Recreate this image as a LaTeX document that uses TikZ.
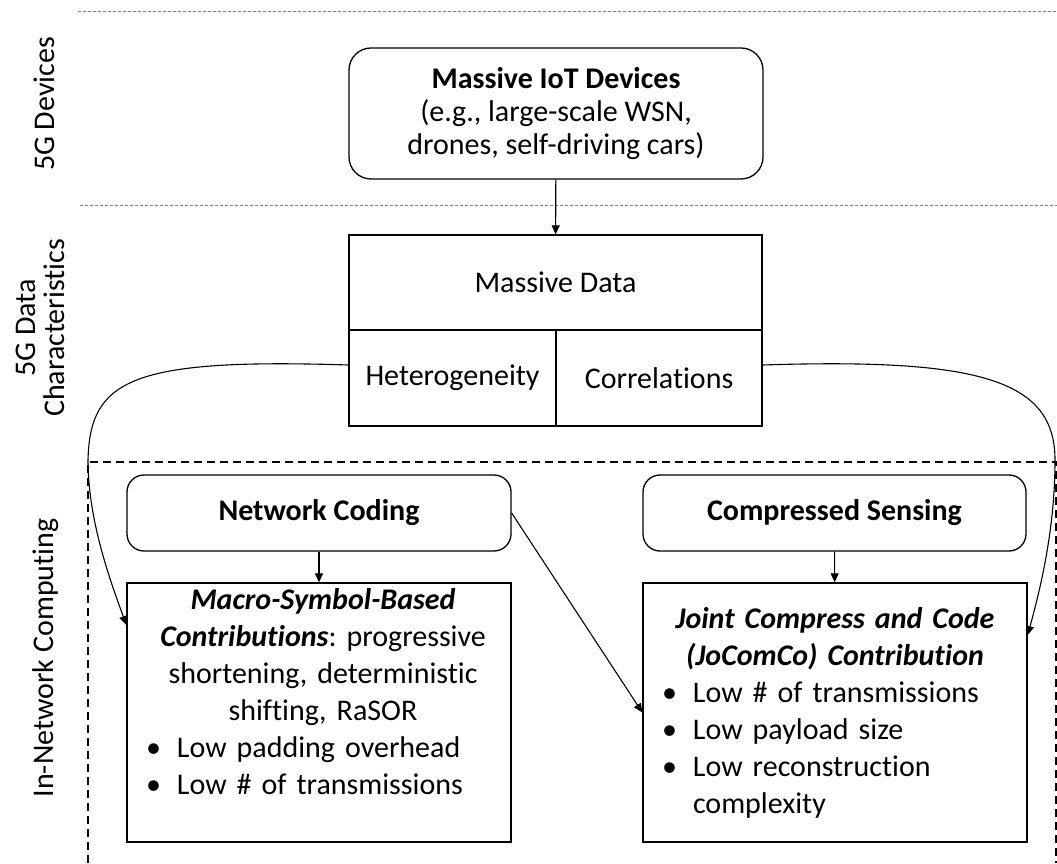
\documentclass[tikz,border=0pt]{standalone}
\usepackage{fontspec}
\setmainfont{Carlito}[Ligatures=NoCommon]
\usepackage{tikz}
\usetikzlibrary{arrows.meta}

% bullet line with hanging indent
\newcommand{\bulletline}[1]{\par\noindent\hangindent=40pt\hangafter=1\makebox[40pt][l]{\hspace{9pt}\textbullet}#1}

\begin{document}
\begin{tikzpicture}[x=1pt,y=1pt,
    every node/.style={font=\fontsize{30}{37}\selectfont\frenchspacing},
    roundbox/.style={draw, line width=1.3pt, rounded corners=#1, align=center, inner sep=0pt},
    plainbox/.style={draw, line width=1.3pt, inner sep=0pt},
    textbox/.style={draw, line width=1.3pt, text width=364pt, inner xsep=10pt, inner ysep=0pt,
                    minimum height=259pt},
    arrow/.style={-{Triangle[length=9pt,width=8pt]}, line width=1.1pt},
    layer/.style={rotate=90, align=center},
    sep/.style={gray, dash pattern=on 3pt off 2pt, line width=0.8pt},
    zone/.style={dash pattern=on 8pt off 5pt, line width=1.3pt}]
\useasboundingbox (0,0) rectangle (1057,863);

% Layer separators
\draw[sep] (78,852) -- (1057,852);
\draw[sep] (80,658) -- (1057,658);
\draw[zone] (88,0) -- (88,401) -- (1056,401) -- (1056,0);

% Layer labels
\node[layer] (devlbl) at (44,759) {5G Devices};
\node[layer, font=\fontsize{30}{29}\selectfont] (datalbl) at (40,535) {5G Data\\Characteristics};
\node[layer] (innlbl) at (46,205) {In-Network Computing};

% Devices and data
\node[roundbox=22pt, minimum width=414pt, minimum height=131pt,
      font=\fontsize{30}{33}\selectfont] (iot) at (556,749.5)
      {\textbf{Massive IoT Devices}\\(e.g., large-scale WSN,\\drones, self-driving cars)};
\node[plainbox, minimum width=413pt, minimum height=95pt] (mdata) at (555.5,580.5) {Massive Data};
\node[plainbox, minimum width=207pt, minimum height=96pt] (hetero) at (452.5,485) {Heterogeneity};
\node[plainbox, minimum width=206pt, minimum height=96pt] (corr) at (659,485) {Correlations};

% In-network computing
\node[roundbox=17pt, minimum width=384pt, minimum height=76pt] (nc) at (319,350) {\textbf{Network Coding}};
\node[roundbox=17pt, minimum width=383pt, minimum height=76pt] (cs) at (834.5,350) {\textbf{Compressed Sensing}};

\node[textbox] (macro) at (319,150.5) {%
  {\centering\hspace*{8pt}\textbf{\textit{Macro-Symbol-Based}}\\
  \hspace*{8pt}\textbf{\textit{Contributions}}: progressive\\
  \hspace*{8pt}shortening, deterministic\\
  \hspace*{8pt}shifting, RaSOR\par}
  \bulletline{Low padding overhead}
  \bulletline{Low \# of transmissions}\par\vspace{6pt}\hbox{}};
\node[textbox] (jocomco) at (835,150.5) {%
  {\centering\textbf{\textit{Joint Compress and Code}}\\
  \textbf{\textit{(JoComCo) Contribution}}\par}
  \bulletline{Low \# of transmissions}
  \bulletline{Low payload size}
  \bulletline{Low reconstruction\newline complexity}\par};

% Connectors
\draw[arrow] (iot) -- (mdata);
\draw[arrow] (nc) -- (macro);
\draw[arrow] (cs) -- (jocomco);
\draw[arrow] (nc.east) -- (jocomco.west);
\draw[arrow] ([yshift=13pt]hetero.west) .. controls (130,505) and (90,483) .. (88,403)
    .. controls (88,343) and (110,283) .. ([yshift=87.5pt]macro.west);
\draw[arrow] ([yshift=13pt]corr.east) .. controls (980,505) and (1055,483) .. (1055,403)
    .. controls (1055,333) and (1040,273) .. ([yshift=77.5pt]jocomco.east);
\end{tikzpicture}
\end{document}
